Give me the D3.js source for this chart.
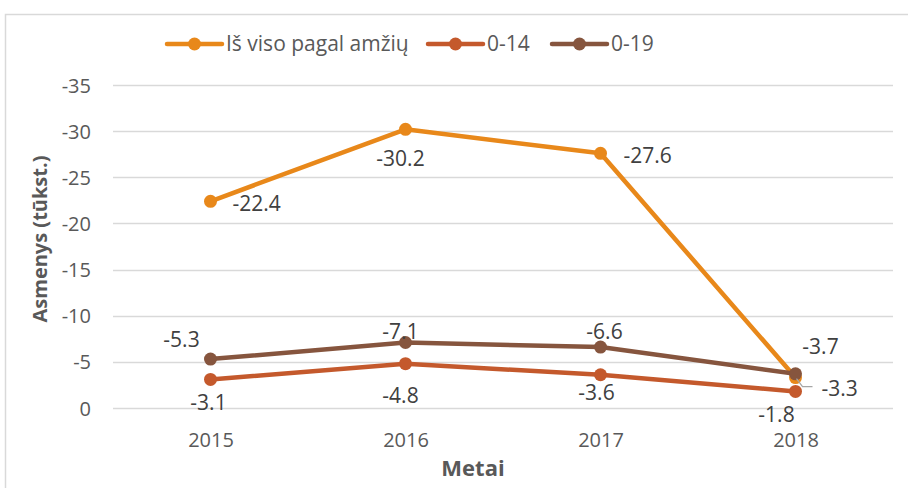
<!DOCTYPE html>
<html>
<head>
<meta charset="utf-8">
<script src="https://cdn.jsdelivr.net/npm/d3@7"></script>
<style>
  body { margin: 0; background: #fff; }
  text { font-family: "Open Sans", sans-serif; fill: #595959; }
</style>
</head>
<body>
<svg id="chart" width="908" height="488"></svg>
<script>
var years = ['2015', '2016', '2017', '2018'];
var totalVals = [-22.4, -30.2, -27.6, -3.3];
var age014Vals = [-3.1, -4.8, -3.6, -1.8];
var age019Vals = [-5.3, -7.1, -6.6, -3.7];
var yTicks = [0, -5, -10, -15, -20, -25, -30, -35];

var seriesNames = ['Iš viso pagal amžių', '0-14', '0-19'];
var seriesColors = ['#E8881A', '#C4592C', '#86553E'];

// label offsets per series / point (dx, dy from the marker)
var labelPos = [
    [[22, 2, 'start'], [-5, 29, 'middle'], [23, 2, 'start'], [26, 11, 'start']],
    [[-2, 23, 'middle'], [-5, 32, 'middle'], [-4, 18, 'middle'], [-19, 23, 'middle']],
    [[-29, -19, 'middle'], [-5, -11, 'middle'], [4, -15, 'middle'], [25, -27, 'middle']]
];

var svg = d3.select('#chart');
var totalW = 908, totalH = 488;

var plotL = 113, plotR = 893, plotT = 85, plotB = 408;

var x = d3.scalePoint().domain(years).range([plotL, plotR]).padding(0.5);
var y = d3.scaleLinear().domain([0, -35]).range([plotB, plotT]);

// outer frame (only top/left visible)
svg.append('path')
    .attr('d', 'M5.5,' + totalH + 'V14.5H' + totalW)
    .attr('fill', 'none')
    .attr('stroke', '#d9d9d9')
    .attr('stroke-width', 1.5);

// grid
var gGrid = svg.append('g').attr('class', 'grid');
gGrid.selectAll('line')
    .data(yTicks)
    .enter()
    .append('line')
    .attr('x1', plotL).attr('x2', plotR)
    .attr('y1', function(d) { return Math.round(y(d)) + 0.5; })
    .attr('y2', function(d) { return Math.round(y(d)) + 0.5; })
    .attr('stroke', '#d9d9d9')
    .attr('stroke-width', 1.3);

// y axis
var yAxis = svg.append('g')
    .attr('transform', 'translate(' + (plotL - 22) + ',0)')
    .call(d3.axisLeft(y).tickValues(yTicks).tickSize(0).tickFormat(function(d) { return String(d); }));
yAxis.select('.domain').remove();
yAxis.selectAll('text')
    .attr('font-size', 20)
    .attr('font-family', '"Open Sans", sans-serif')
    .attr('fill', '#595959')
    .attr('dy', '0.35em')
    .attr('x', 0);

// x axis
var xAxis = svg.append('g')
    .attr('transform', 'translate(0,' + plotB + ')')
    .call(d3.axisBottom(x).tickSize(0));
xAxis.select('.domain').remove();
xAxis.selectAll('text')
    .attr('font-size', 20)
    .attr('font-family', '"Open Sans", sans-serif')
    .attr('fill', '#595959')
    .attr('y', 32)
    .attr('dy', '0.35em');

// axis titles
svg.append('text')
    .attr('transform', 'translate(47,' + 239 + ') rotate(-90)')
    .attr('text-anchor', 'middle')
    .attr('font-size', 20)
    .attr('font-weight', 'bold')
    .text('Asmenys (tūkst.)');

svg.append('text')
    .attr('x', 473)
    .attr('y', 476)
    .attr('text-anchor', 'middle')
    .attr('font-size', 22)
    .attr('font-weight', 'bold')
    .text('Metai');

// series
var series = [totalVals, age014Vals, age019Vals];
var line = d3.line()
    .x(function(d, i) { return x(years[i]); })
    .y(function(d) { return y(d); });

series.forEach(function(vals, s) {
    var g = svg.append('g').attr('class', 'series');
    g.append('path')
        .datum(vals)
        .attr('d', line)
        .attr('fill', 'none')
        .attr('stroke', seriesColors[s])
        .attr('stroke-width', 4.5)
        .attr('stroke-linejoin', 'round');
    g.selectAll('circle')
        .data(vals)
        .enter()
        .append('circle')
        .attr('cx', function(d, i) { return x(years[i]); })
        .attr('cy', function(d) { return y(d); })
        .attr('r', 6.5)
        .attr('fill', seriesColors[s]);
});

// leader line for -3.3
var lx0 = x('2018'), ly0 = y(totalVals[3]);
svg.append('path')
    .attr('d', 'M' + (lx0 + 1) + ',' + (ly0 + 1) + 'L' + (lx0 + 7) + ',' + (ly0 + 9) + 'H' + (lx0 + 17))
    .attr('fill', 'none')
    .attr('stroke', '#a6a6a6')
    .attr('stroke-width', 1.2);

// data labels
series.forEach(function(vals, s) {
    svg.append('g').selectAll('text')
        .data(vals)
        .enter()
        .append('text')
        .attr('x', function(d, i) { return x(years[i]) + labelPos[s][i][0]; })
        .attr('y', function(d, i) { return y(d) + labelPos[s][i][1]; })
        .attr('dy', '0.35em')
        .attr('text-anchor', function(d, i) { return labelPos[s][i][2]; })
        .attr('font-size', 21)
        .style('fill', '#404040')
        .text(function(d) { return d.toFixed(1); });
});

// legend
var legendX = [167, 428, 552];
var gLegend = svg.append('g').attr('class', 'legend');
seriesNames.forEach(function(name, i) {
    var lx = legendX[i];
    gLegend.append('line')
        .attr('x1', lx).attr('x2', lx + 55)
        .attr('y1', 44).attr('y2', 44)
        .attr('stroke', seriesColors[i])
        .attr('stroke-width', 4.5)
        .attr('stroke-linecap', 'round');
    gLegend.append('circle')
        .attr('cx', lx + 27.5).attr('cy', 44).attr('r', 6.5)
        .attr('fill', seriesColors[i]);
    gLegend.append('text')
        .attr('x', lx + 59).attr('y', 44)
        .attr('dy', '0.35em')
        .attr('font-size', 21)
        .text(name);
});
</script>
</body>
</html>
